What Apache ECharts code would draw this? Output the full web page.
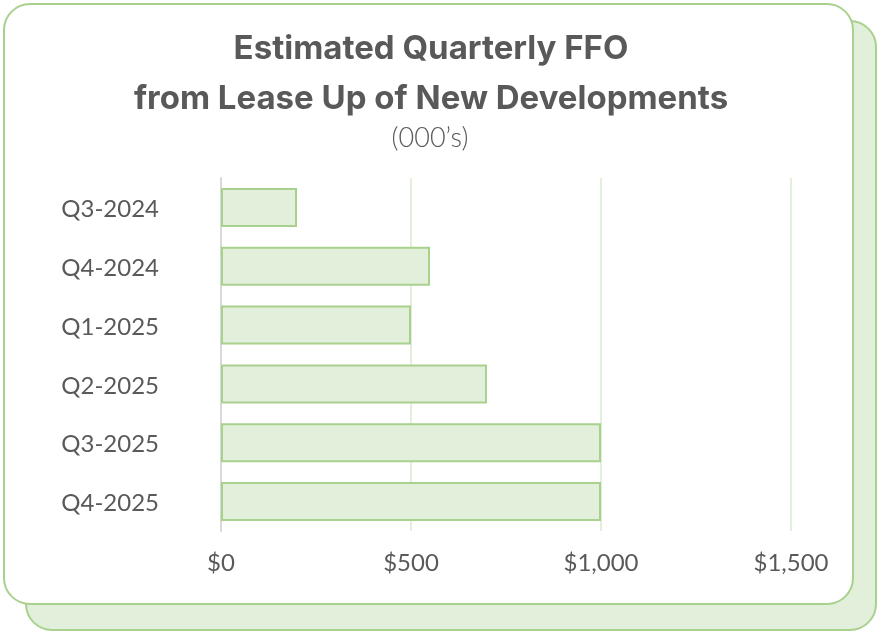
<!DOCTYPE html>
<html>
<head>
<meta charset="utf-8">
<style>
  html, body { margin: 0; padding: 0; background: #ffffff; }
  #chart { width: 877px; height: 633px; }
</style>
<script src="https://cdn.jsdelivr.net/npm/echarts@6/dist/echarts.min.js"></script>
</head>
<body>
<div id="chart"></div>
<script>
// Quarterly FFO estimates (in thousands of dollars)
const quarters = ['Q3-2024', 'Q4-2024', 'Q1-2025', 'Q2-2025', 'Q3-2025', 'Q4-2025'];
const ffoValues = [200, 550, 500, 700, 1000, 1000];
const axisTicks = [0, 500, 1000, 1500];

const titleLines = ['Estimated Quarterly FFO', 'from Lease Up of New Developments'];
const unitNote = '(000\u2019s)';

const GREEN_LINE = '#a9d18e';
const GREEN_FILL = '#e2efda';
const TEXT = '#595959';

const chart = echarts.init(document.getElementById('chart'), null, { renderer: 'canvas' });

chart.setOption({
  backgroundColor: '#ffffff',
  animation: false,
  graphic: [
    // back card
    {
      type: 'rect', z: -10,
      shape: { x: 26, y: 21, width: 850, height: 609, r: 26 },
      style: { fill: GREEN_FILL, stroke: GREEN_LINE, lineWidth: 2 }
    },
    // front card
    {
      type: 'rect', z: -9,
      shape: { x: 4, y: 4, width: 849, height: 600, r: 26 },
      style: { fill: '#ffffff', stroke: GREEN_LINE, lineWidth: 2 }
    },
    {
      type: 'text', x: 431, y: 49,
      style: {
        text: titleLines[0], textAlign: 'center', textVerticalAlign: 'middle',
        fill: TEXT, font: '700 33px Inter'
      }
    },
    {
      type: 'text', x: 431, y: 99,
      style: {
        text: titleLines[1], textAlign: 'center', textVerticalAlign: 'middle',
        fill: TEXT, font: '700 33px Inter'
      }
    },
    {
      type: 'text', x: 430, y: 138,
      style: {
        text: unitNote, textAlign: 'center', textVerticalAlign: 'middle',
        fill: TEXT, font: '300 27px Lato'
      }
    }
  ],
  grid: { left: 221, right: 86, top: 178, bottom: 102, containLabel: false },
  xAxis: {
    type: 'value',
    min: axisTicks[0],
    max: axisTicks[axisTicks.length - 1],
    interval: axisTicks[1] - axisTicks[0],
    axisLine: { show: false },
    axisTick: { show: false },
    splitLine: { show: true, lineStyle: { color: GREEN_FILL, width: 2 } },
    axisLabel: {
      margin: 20,
      color: TEXT, fontFamily: 'Lato', fontSize: 24,
      formatter: v => '$' + v.toLocaleString('en-US')
    }
  },
  yAxis: {
    type: 'category',
    data: quarters,
    inverse: true,
    axisLine: { show: true, lineStyle: { color: '#d9d9d9', width: 2 } },
    axisTick: { show: false },
    axisLabel: {
      margin: 62, color: TEXT, fontFamily: 'Lato', fontSize: 24,
      verticalAlign: 'top', lineHeight: 28, padding: [-12, 0, 0, 0]
    }
  },
  series: [{
    type: 'bar',
    data: ffoValues,
    barWidth: 39,
    itemStyle: { color: GREEN_FILL, borderColor: GREEN_LINE, borderWidth: 2 }
  }]
});
</script>
</body>
</html>
